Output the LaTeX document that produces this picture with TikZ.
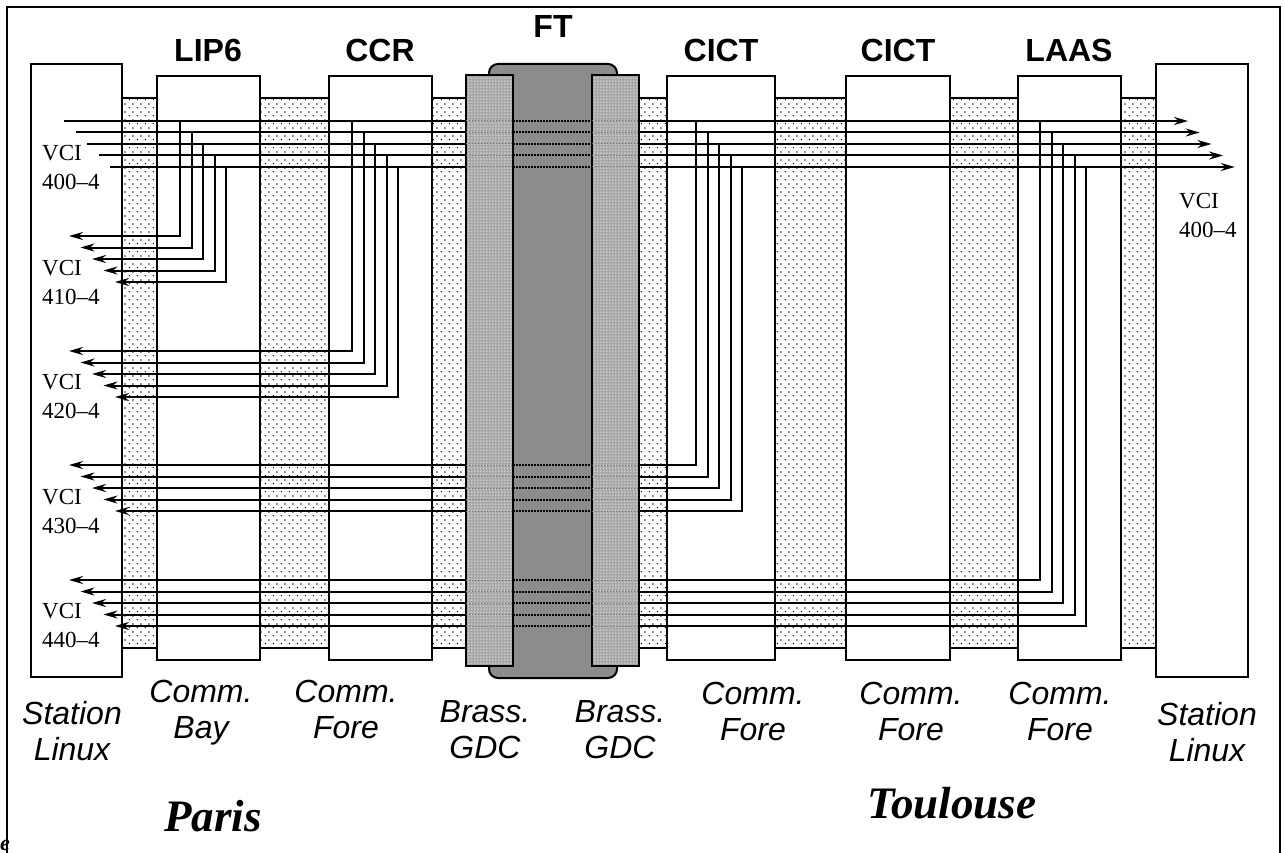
\documentclass[tikz,border=0pt]{standalone}
\usepackage{fontspec}
\setmainfont{Liberation Sans}
\newfontfamily\vcifont{Liberation Serif}
\usetikzlibrary{arrows.meta,patterns.meta}

\tikzdeclarepattern{
  name=sparsedots, type=uncolored,
  bounding box={(0pt,0pt) and (8pt,8pt)},
  tile size={(8pt,8pt)},
  code={
    \fill (1pt,1pt) rectangle (2.2pt,2.2pt);
    \fill (5pt,5pt) rectangle (6.2pt,6.2pt);
  }
}
\tikzdeclarepattern{
  name=griddots, type=uncolored,
  bounding box={(0pt,0pt) and (3pt,3pt)},
  tile size={(3pt,3pt)},
  code={\fill (0.6pt,0.6pt) rectangle (1.8pt,1.8pt);}
}

\begin{document}
\begin{tikzpicture}[x=1pt,y=-1pt,
   unitbox/.style={draw,line width=2pt,fill=white},
   vcl/.style={line width=2pt,-{Stealth[length=14pt,width=8pt]}},
   eqlbl/.style={font=\fontsize{32}{34}\selectfont\bfseries,anchor=base},
   sitelbl/.style={font=\fontsize{32}{36}\selectfont\itshape,align=center,anchor=north,inner sep=0pt},
   vcilbl/.style={font=\fontsize{23}{29}\selectfont\vcifont,align=left,anchor=west,inner sep=0pt},
   townlbl/.style={font=\fontsize{45}{48}\selectfont\vcifont\bfseries\itshape,anchor=base}]

   \useasboundingbox (0,0) rectangle (1285,853);
   \fill [white] (0,0) rectangle (1285,853);
   \draw [line width=2.5pt] (7,853) -- (7,7) -- (1280,7) -- (1280,853);

   \draw [pattern=sparsedots, line width=2pt] (122,98) rectangle (1156,648);

   \draw [unitbox] (31,64) rectangle (122,677);
   \draw [unitbox] (157,76) rectangle (260,660);
   \draw [unitbox] (329,76) rectangle (432,660);
   \draw [unitbox] (667,76) rectangle (775,660);
   \draw [unitbox] (846,76) rectangle (950,660);
   \draw [unitbox] (1018,76) rectangle (1121,660);
   \draw [unitbox] (1156,64) rectangle (1248,677);

   \foreach \i in {0,...,4} {
      \draw [vcl] ({64+11.6*\i},{121+11.5*\i}) -- ({1188+11.7*\i},{121+11.5*\i});
      \draw [vcl] ({180+11.5*\i},{121+11.5*\i}) |- ({69+11.5*\i},{236+11.5*\i});
      \draw [vcl] ({352+11.5*\i},{121+11.5*\i}) |- ({69+11.5*\i},{351+11.5*\i});
      \draw [vcl] ({696+11.5*\i},{121+11.5*\i}) |- ({69+11.5*\i},{465+11.5*\i});
      \draw [vcl] ({1040+11.5*\i},{121+11.5*\i}) |- ({69+11.5*\i},{580+11.5*\i});
   }

   \filldraw [fill=black!45, line width=2pt, rounded corners=9pt] (489,64) rectangle (617,678);
   \foreach \bx in {466,592} {
      \fill [black!35] (\bx,75) rectangle ({\bx+47},666);
      \fill [pattern=griddots, pattern color=white] (\bx,75) rectangle ({\bx+47},666);
      \draw [line width=2pt] (\bx,75) rectangle ({\bx+47},666);
   }
   \foreach \y in {121,465,580} {
      \foreach \i in {0,...,4} {
         \draw [line width=2pt, dash pattern=on 1.5pt off 1.5pt] (513,{\y+11.5*\i}) -- (592,{\y+11.5*\i});
         \draw [black!60, line width=1pt, dash pattern=on 1pt off 2pt] (466,{\y+11.5*\i}) -- (513,{\y+11.5*\i});
         \draw [black!60, line width=1pt, dash pattern=on 1pt off 2pt] (592,{\y+11.5*\i}) -- (639,{\y+11.5*\i});
      }
   }

   \node [eqlbl] (lip) at (208,62) {LIP6};
   \node [eqlbl] (ccr) at (380,62) {CCR};
   \node [eqlbl] (ft) at (553,38) {FT};
   \node [eqlbl] (cicta) at (721,62) {CICT};
   \node [eqlbl] (cictb) at (898,62) {CICT};
   \node [eqlbl] (laas) at (1069,62) {LAAS};

   \foreach \k/\n in {0/400,1/410,2/420,3/430,4/440}
      \node [vcilbl] (vci\n) at (42,{167.5+114.6*\k}) {VCI\\\n\textendash4};
   \node [vcilbl] (vcir) at (1179,215.5) {VCI\\400\textendash4};

   \node [sitelbl] (stl) at (72,701) {Station\\Linux};
   \node [sitelbl] (bay) at (201,680) {Comm.\\Bay};
   \node [sitelbl] (forea) at (346,680) {Comm.\\Fore};
   \node [sitelbl] (gdca) at (485,700) {Brass.\\GDC};
   \node [sitelbl] (gdcb) at (620,700) {Brass.\\GDC};
   \node [sitelbl] (foreb) at (753,682) {Comm.\\Fore};
   \node [sitelbl] (forec) at (911,682) {Comm.\\Fore};
   \node [sitelbl] (fored) at (1060,682) {Comm.\\Fore};
   \node [sitelbl] (str) at (1207,702) {Station\\Linux};

   \node [townlbl] (paris) at (213,831) {Paris};
   \node [townlbl] (toulouse) at (952,818) {Toulouse};
   \node [townlbl, font=\fontsize{22}{24}\selectfont\vcifont\bfseries\itshape, anchor=base west, inner sep=0pt] (cut) at (0,850) {e};

 \end{tikzpicture}
\end{document}
